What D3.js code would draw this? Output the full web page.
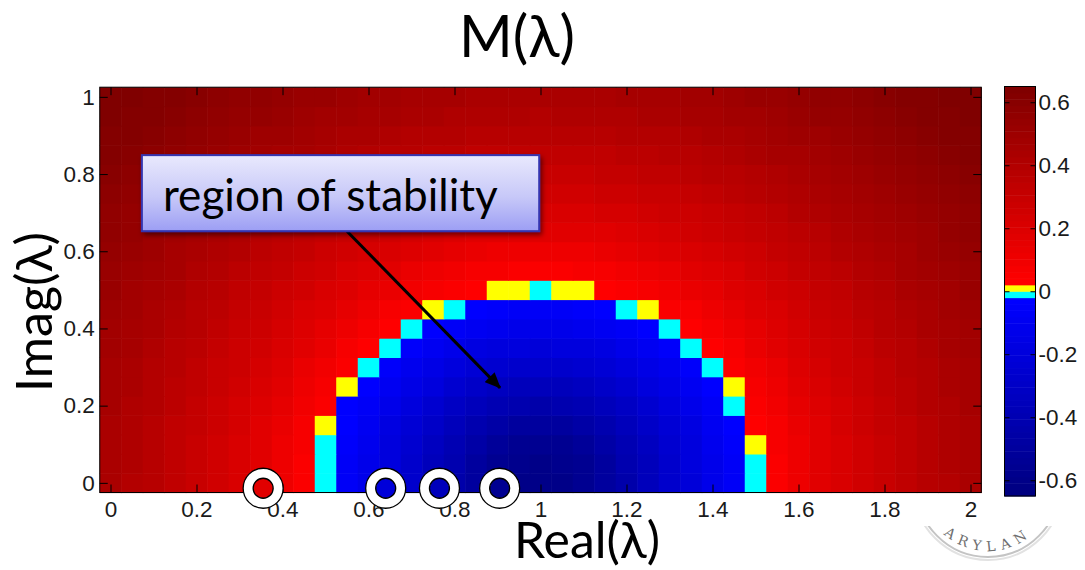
<!DOCTYPE html>
<html lang="en">
<head>
<meta charset="UTF-8">
<title>M(lambda)</title>
<style>
    body { margin: 0; background: #fff; }
    .tick text { font-family: "Liberation Sans", Arial, sans-serif; font-size: 22.5px; fill: #1a1a1a; }
    .tick line { stroke: #000; stroke-width: 1; }
    .domain { display: none; }
    .big { font-family: Lato, "Noto Sans", sans-serif; fill: #000; }
</style>
</head>
<body>
<svg width="1085" height="570"></svg>
<script src="https://cdn.jsdelivr.net/npm/d3@7"></script>
<script>

// grid of the computed field
var realGrid = [0,0.05,0.1,0.15,0.2,0.25,0.3,0.35,0.4,0.45,0.5,0.55,0.6,0.65,0.7,0.75,0.8,0.85,0.9,0.95,
    1,1.05,1.1,1.15,1.2,1.25,1.3,1.35,1.4,1.45,1.5,1.55,1.6,1.65,1.7,1.75,1.8,1.85,1.9,1.95,2];
var imagGrid = [0,0.05,0.1,0.15,0.2,0.25,0.3,0.35,0.4,0.45,0.5,0.55,0.6,0.65,0.7,0.75,0.8,0.85,0.9,0.95,1];

// M(lambda), one row per imag value (row 0 = imag 0)
var mValues = [
 [.44,.40,.37,.33,.30,.26,.21,.17,.12,.06,-.01,-.07,-.14,-.21,-.28,-.36,-.43,-.50,-.56,-.59,-.60,-.59,-.56,-.50,-.43,-.36,-.28,-.21,-.14,-.07,-.01,.06,.12,.17,.21,.26,.30,.33,.37,.40,.44],
 [.44,.41,.37,.34,.30,.26,.21,.17,.12,.06,-.01,-.07,-.14,-.20,-.27,-.35,-.42,-.49,-.55,-.58,-.59,-.58,-.55,-.49,-.42,-.35,-.27,-.20,-.14,-.07,-.01,.06,.12,.17,.21,.26,.30,.34,.37,.41,.44],
 [.44,.41,.37,.34,.30,.26,.22,.17,.12,.07,-.01,-.06,-.12,-.19,-.26,-.33,-.40,-.46,-.51,-.55,-.56,-.55,-.51,-.46,-.40,-.33,-.26,-.19,-.12,-.06,.01,.07,.12,.17,.22,.26,.30,.34,.37,.41,.44],
 [.44,.41,.38,.34,.31,.27,.23,.18,.13,.08,.01,-.04,-.10,-.17,-.23,-.29,-.36,-.41,-.46,-.49,-.50,-.49,-.46,-.41,-.36,-.29,-.23,-.17,-.10,-.04,.03,.08,.13,.18,.23,.27,.31,.34,.38,.41,.44],
 [.45,.42,.39,.35,.32,.28,.24,.19,.15,.10,.05,-.04,-.07,-.14,-.20,-.25,-.31,-.36,-.40,-.42,-.43,-.42,-.40,-.36,-.31,-.25,-.20,-.14,-.07,-.01,.05,.10,.15,.19,.24,.28,.32,.35,.39,.42,.45],
 [.46,.43,.39,.36,.33,.29,.25,.21,.17,.12,.07,.01,-.04,-.10,-.15,-.20,-.25,-.29,-.33,-.35,-.36,-.35,-.33,-.29,-.25,-.20,-.15,-.10,-.04,.01,.07,.12,.17,.21,.25,.29,.33,.36,.39,.43,.46],
 [.46,.44,.40,.37,.34,.30,.27,.23,.19,.14,.10,.05,-.01,-.06,-.11,-.15,-.20,-.23,-.26,-.27,-.28,-.27,-.26,-.23,-.20,-.15,-.11,-.06,-.01,.05,.10,.14,.19,.23,.27,.30,.34,.37,.40,.44,.46],
 [.47,.45,.42,.38,.35,.32,.28,.25,.21,.17,.13,.08,.04,-.01,-.06,-.10,-.14,-.17,-.19,-.20,-.21,-.20,-.19,-.17,-.14,-.10,-.06,-.01,.04,.08,.13,.17,.21,.25,.28,.32,.35,.38,.42,.45,.47],
 [.48,.46,.43,.40,.37,.33,.30,.27,.23,.19,.16,.12,.08,.04,-.01,-.04,-.07,-.10,-.12,-.14,-.14,-.14,-.12,-.10,-.07,-.04,-.01,.04,.08,.12,.16,.19,.23,.27,.30,.33,.37,.40,.43,.46,.48],
 [.50,.47,.44,.41,.38,.35,.32,.29,.26,.22,.19,.15,.12,.08,.05,.01,-.01,-.04,-.06,-.07,-.07,-.07,-.06,-.04,-.01,.01,.05,.08,.12,.15,.19,.22,.26,.29,.32,.35,.38,.41,.44,.47,.50],
 [.51,.48,.46,.43,.40,.37,.34,.31,.28,.25,.22,.19,.16,.13,.10,.07,.05,.03,.01,.01,-.01,.01,.01,.03,.05,.07,.10,.13,.16,.19,.22,.25,.28,.31,.34,.37,.40,.43,.46,.48,.51],
 [.52,.50,.47,.45,.42,.39,.36,.34,.31,.28,.25,.22,.19,.17,.14,.12,.10,.08,.07,.06,.06,.06,.07,.08,.10,.12,.14,.17,.19,.22,.25,.28,.31,.34,.36,.39,.42,.45,.47,.50,.52],
 [.53,.51,.49,.46,.44,.41,.39,.36,.33,.31,.28,.26,.23,.21,.19,.17,.15,.13,.12,.12,.12,.12,.12,.13,.15,.17,.19,.21,.23,.26,.28,.31,.33,.36,.39,.41,.44,.46,.49,.51,.53],
 [.55,.53,.50,.48,.46,.43,.41,.38,.36,.34,.31,.29,.27,.25,.23,.21,.19,.18,.17,.17,.17,.17,.17,.18,.19,.21,.23,.25,.27,.29,.31,.34,.36,.38,.41,.43,.46,.48,.50,.53,.55],
 [.56,.54,.52,.50,.48,.45,.43,.41,.39,.36,.34,.32,.30,.28,.27,.25,.24,.23,.22,.21,.21,.21,.22,.23,.24,.25,.27,.28,.30,.32,.34,.36,.39,.41,.43,.45,.48,.50,.52,.54,.56],
 [.58,.56,.54,.52,.50,.47,.45,.43,.41,.39,.37,.35,.33,.32,.30,.29,.28,.27,.26,.26,.26,.26,.26,.27,.28,.29,.30,.32,.33,.35,.37,.39,.41,.43,.45,.47,.50,.52,.54,.56,.58],
 [.59,.57,.55,.53,.51,.50,.48,.46,.44,.42,.40,.38,.37,.35,.34,.33,.32,.31,.30,.30,.30,.30,.30,.31,.32,.33,.34,.35,.37,.38,.40,.42,.44,.46,.48,.50,.51,.53,.55,.57,.59],
 [.61,.59,.57,.55,.53,.52,.50,.48,.46,.45,.43,.41,.40,.38,.37,.36,.35,.34,.34,.34,.33,.34,.34,.34,.35,.36,.37,.38,.40,.41,.43,.45,.46,.48,.50,.52,.53,.55,.57,.59,.61],
 [.62,.61,.59,.57,.55,.54,.52,.50,.49,.47,.46,.44,.43,.42,.40,.39,.39,.38,.37,.37,.37,.37,.37,.38,.39,.39,.40,.42,.43,.44,.46,.47,.49,.50,.52,.54,.55,.57,.59,.61,.62],
 [.64,.62,.61,.59,.57,.56,.54,.53,.51,.50,.48,.47,.46,.45,.44,.43,.42,.41,.41,.41,.40,.41,.41,.41,.42,.43,.44,.45,.46,.47,.48,.50,.51,.53,.54,.56,.57,.59,.61,.62,.64],
 [.65,.64,.62,.61,.59,.58,.56,.55,.53,.52,.51,.50,.48,.47,.46,.46,.45,.44,.44,.44,.44,.44,.44,.44,.45,.46,.46,.47,.48,.50,.51,.52,.53,.55,.56,.58,.59,.61,.62,.64,.65]
];

var xTicks = [0,0.2,0.4,0.6,0.8,1,1.2,1.4,1.6,1.8,2];
var yTicks = [0,0.2,0.4,0.6,0.8,1];
var cbTicks = [-0.6,-0.4,-0.2,0,0.2,0.4,0.6];

// marked eigenvalues along the real axis
var eigenReal = [0.355, 0.64, 0.765, 0.905];
var eigenImag = [-0.014, -0.014, -0.014, -0.014];

var svg = d3.select("svg");
var half = 0.025;

var x = d3.scaleLinear().domain([-half, 2 + half]).range([99.75, 981.25]);
var y = d3.scaleLinear().domain([-half, 1 + half]).range([492.5, 87.2]);

// 64 colour colormap: blues, one cyan, one yellow, reds
var cmap = [];
for (var k = 0; k <= 30; k++) cmap.push(d3.rgb(0, 0, Math.round(128 + 127 * k / 30)).toString());
cmap.push("#00ffff");
cmap.push("#ffff00");
for (var k = 33; k <= 63; k++) cmap.push(d3.rgb(Math.round(255 - 127 * (k - 33) / 30), 0, 0).toString());
var color = d3.scaleQuantize().domain([-0.65, 0.65]).range(cmap);

var defs = svg.append("defs");
var grad = defs.append("linearGradient").attr("id", "boxFill")
    .attr("x1", 0).attr("y1", 0).attr("x2", 0).attr("y2", 1);
grad.append("stop").attr("offset", "0%").attr("stop-color", "#e9e9fd");
grad.append("stop").attr("offset", "55%").attr("stop-color", "#c7c8f8");
grad.append("stop").attr("offset", "100%").attr("stop-color", "#9c9ef4");
defs.append("filter").attr("id", "shadow")
    .attr("x", "-10%").attr("y", "-20%").attr("width", "125%").attr("height", "150%")
  .append("feDropShadow")
    .attr("dx", 2).attr("dy", 3).attr("stdDeviation", 2.5)
    .attr("flood-color", "#000").attr("flood-opacity", 0.5);
defs.append("marker").attr("id", "head")
    .attr("viewBox", "0 0 16 14").attr("refX", 15).attr("refY", 7)
    .attr("markerWidth", 16).attr("markerHeight", 14)
    .attr("markerUnits", "userSpaceOnUse").attr("orient", "auto")
  .append("path").attr("d", "M0,0 L16,7 L0,14 Z").attr("fill", "#000");
defs.append("clipPath").attr("id", "sealClip")
  .append("rect").attr("x", 880).attr("y", 526).attr("width", 205).attr("height", 44);

// seal peeking out below the figure (bottom right)
var sx = 988, sy = 485;
var seal = svg.append("g").attr("clip-path", "url(#sealClip)");
seal.append("circle").attr("cx", sx).attr("cy", sy).attr("r", 72)
    .attr("fill", "none").attr("stroke", "#c4c4c4").attr("stroke-width", 2);
seal.append("circle").attr("cx", sx).attr("cy", sy).attr("r", 75)
    .attr("fill", "none").attr("stroke", "#e2e2e2").attr("stroke-width", 2);
seal.append("path").attr("id", "sealArc")
    .attr("d", "M" + (sx - 66) + "," + sy + " A66,66 0 0 0 " + (sx + 66) + "," + sy)
    .attr("fill", "none");
seal.append("text")
    .attr("font-family", "'DejaVu Serif', 'Liberation Serif', serif")
    .attr("font-size", 14).attr("letter-spacing", 6).attr("fill", "#6f6f6f")
  .append("textPath").attr("href", "#sealArc")
    .attr("startOffset", "50%").attr("text-anchor", "middle")
    .text("ARYLAN");

// heat map cells
var cells = [];
mValues.forEach(function(row, j) {
    row.forEach(function(v, c) {
        cells.push({re: realGrid[c], im: imagGrid[j], v: v});
    });
});

svg.append("g").selectAll("rect")
    .data(cells)
    .enter().append("rect")
    .attr("x", function(d) { return x(d.re - half); })
    .attr("y", function(d) { return y(d.im + half); })
    .attr("width", function(d) { return x(d.re + half) - x(d.re - half) + 0.6; })
    .attr("height", function(d) { return y(d.im - half) - y(d.im + half) + 0.6; })
    .attr("fill", function(d) { return color(d.v); });

function fmt(d) { return String(+d.toFixed(1)); }

svg.append("g").attr("transform", "translate(0," + y(-half) + ")")
    .call(d3.axisBottom(x).tickValues(xTicks).tickSize(-8).tickPadding(9).tickFormat(fmt));
svg.append("g").attr("transform", "translate(0," + y(1 + half) + ")")
    .call(d3.axisTop(x).tickValues(xTicks).tickSize(-8).tickFormat(""));
svg.append("g").attr("transform", "translate(" + x(-half) + ",0)")
    .call(d3.axisLeft(y).tickValues(yTicks).tickSize(-8).tickPadding(5).tickFormat(fmt));
svg.append("g").attr("transform", "translate(" + x(2 + half) + ",0)")
    .call(d3.axisRight(y).tickValues(yTicks).tickSize(-8).tickFormat(""));
svg.append("rect")
    .attr("x", x(-half)).attr("y", y(1 + half))
    .attr("width", x(2 + half) - x(-half)).attr("height", y(-half) - y(1 + half))
    .attr("fill", "none").attr("stroke", "#000").attr("stroke-width", 1);

// colour bar
var cbX = 1004.5, cbW = 31;
var cy = d3.scaleLinear().domain([-0.65, 0.65]).range([496, 86.5]);
var step = 1.3 / cmap.length;
svg.append("g").selectAll("rect")
    .data(cmap)
    .enter().append("rect")
    .attr("x", cbX)
    .attr("y", function(d, i) { return cy(-0.65 + (i + 1) * step); })
    .attr("width", cbW)
    .attr("height", function(d, i) { return cy(-0.65 + i * step) - cy(-0.65 + (i + 1) * step) + 0.5; })
    .attr("fill", function(d) { return d; });
svg.append("g").attr("transform", "translate(" + (cbX + cbW) + ",0)")
    .call(d3.axisRight(cy).tickValues(cbTicks).tickSize(-5).tickPadding(3).tickFormat(fmt));
svg.append("g").attr("transform", "translate(" + cbX + ",0)")
    .call(d3.axisLeft(cy).tickValues(cbTicks).tickSize(-5).tickFormat(""));
svg.append("rect")
    .attr("x", cbX).attr("y", cy(0.65)).attr("width", cbW).attr("height", cy(-0.65) - cy(0.65))
    .attr("fill", "none").attr("stroke", "#000").attr("stroke-width", 1);

// eigenvalue markers
function nearest(re, im) {
    var c = Math.round(re / 0.05), j = Math.max(0, Math.round(im / 0.05));
    return mValues[j][c];
}
var eig = svg.append("g").selectAll("g")
    .data(eigenReal.map(function(re, i) { return {re: re, im: eigenImag[i]}; }))
    .enter().append("g")
    .attr("transform", function(d) { return "translate(" + x(d.re) + "," + y(d.im) + ")"; });
eig.append("circle").attr("r", 20).attr("fill", "#fff").attr("stroke", "#000").attr("stroke-width", 1.3);
eig.append("circle").attr("r", 10)
    .attr("fill", function(d) { return color(nearest(d.re, d.im)); })
    .attr("stroke", "#000").attr("stroke-width", 1.3);

// annotation box and arrow (data units)
var box = {x0: 0.073, x1: 0.997, y0: 0.652, y1: 0.849};
svg.append("line")
    .attr("x1", x(0.55)).attr("y1", y(box.y0))
    .attr("x2", x(0.906)).attr("y2", y(0.246))
    .attr("stroke", "#000").attr("stroke-width", 3)
    .attr("marker-end", "url(#head)");
svg.append("rect")
    .attr("x", x(box.x0)).attr("y", y(box.y1))
    .attr("width", x(box.x1) - x(box.x0)).attr("height", y(box.y0) - y(box.y1))
    .attr("fill", "url(#boxFill)").attr("stroke", "#3434b0").attr("stroke-width", 2)
    .attr("filter", "url(#shadow)");

function fit(sel, w) {
    var len = sel.node().getComputedTextLength();
    sel.attr("font-size", 50 * w / len);
    return sel;
}

fit(svg.append("text").attr("class", "big")
    .attr("x", x(0.122)).attr("y", y(0.704))
    .attr("font-size", 50).text("region of stability"), 335);

fit(svg.append("text").attr("class", "big")
    .attr("x", 517).attr("y", 57).attr("text-anchor", "middle")
    .attr("font-size", 50).text("M(λ)"), 116);

fit(svg.append("text").attr("class", "big")
    .attr("x", 587).attr("y", 558).attr("text-anchor", "middle")
    .attr("font-size", 50).text("Real(λ)"), 146);

fit(svg.append("text").attr("class", "big")
    .attr("transform", "translate(52,312) rotate(-90)").attr("text-anchor", "middle")
    .attr("font-size", 50).text("Imag(λ)"), 160);

</script>
</body>
</html>
